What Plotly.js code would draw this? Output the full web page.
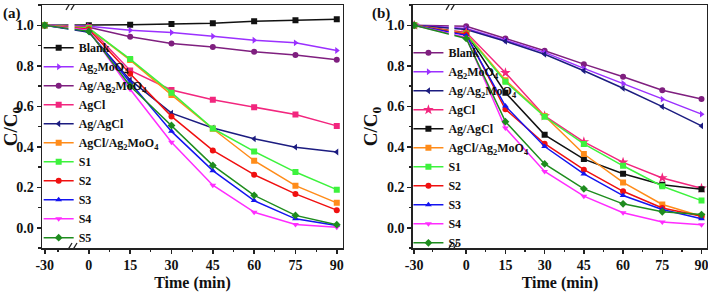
<!DOCTYPE html>
<html>
<head>
<meta charset="utf-8">
<script src="https://cdn.plot.ly/plotly-3.0.1.min.js"></script>
<style>html,body{margin:0;padding:0;background:#fff;}#chart{width:708px;height:292px;}</style>
</head>
<body>
<div id="chart"></div>
<script>
// ---------- data ----------
const time = [-30, 0, 15, 30, 45, 60, 75, 90];
const timeLabels = ['-30', '0', '15', '30', '45', '60', '75', '90'];
const seriesNames = ['Blank', 'Ag<sub>2</sub>MoO<sub>4</sub>', 'Ag/Ag<sub>2</sub>MoO<sub>4</sub>', 'AgCl', 'Ag/AgCl',
  'AgCl/Ag<sub>2</sub>MoO<sub>4</sub>', 'S1', 'S2', 'S3', 'S4', 'S5'];

// panel (a)
const blankA       = [1.00, 1.000, 1.003, 1.006, 1.010, 1.020, 1.025, 1.030];
const ag2moo4A     = [1.00, 0.995, 0.975, 0.964, 0.946, 0.926, 0.913, 0.875];
const agAg2moo4A   = [1.00, 0.990, 0.943, 0.910, 0.892, 0.869, 0.853, 0.830];
const agclA        = [1.00, 0.990, 0.777, 0.680, 0.632, 0.595, 0.559, 0.503];
const agAgclA      = [1.00, 0.965, 0.730, 0.566, 0.493, 0.439, 0.398, 0.374];
const agclAg2moo4A = [1.00, 0.985, 0.828, 0.656, 0.489, 0.331, 0.208, 0.123];
const s1A          = [1.00, 0.985, 0.833, 0.667, 0.490, 0.377, 0.275, 0.188];
const s2A          = [1.00, 0.980, 0.760, 0.550, 0.382, 0.262, 0.167, 0.087];
const s3A          = [1.00, 0.970, 0.717, 0.476, 0.282, 0.134, 0.044, 0.011];
const s4A          = [1.00, 0.975, 0.684, 0.422, 0.210, 0.077, 0.016, 0.003];
const s5A          = [1.00, 0.970, 0.700, 0.505, 0.308, 0.160, 0.061, 0.015];

// panel (b)
const blankB       = [1.00, 0.995, 0.935, 0.874, 0.808, 0.746, 0.679, 0.636];
const ag2moo4B     = [1.00, 0.984, 0.926, 0.866, 0.787, 0.713, 0.635, 0.561];
const agAg2moo4B   = [1.00, 0.979, 0.921, 0.857, 0.775, 0.689, 0.598, 0.503];
const agclB        = [1.00, 0.965, 0.765, 0.552, 0.424, 0.323, 0.246, 0.195];
const agAgclB      = [1.00, 0.960, 0.667, 0.459, 0.339, 0.267, 0.212, 0.190];
const agclAg2moo4B = [1.00, 0.960, 0.729, 0.552, 0.364, 0.224, 0.115, 0.057];
const s1B          = [1.00, 0.955, 0.721, 0.548, 0.414, 0.306, 0.205, 0.134];
const s2B          = [1.00, 0.955, 0.585, 0.415, 0.287, 0.180, 0.098, 0.057];
const s3B          = [1.00, 0.950, 0.601, 0.401, 0.266, 0.159, 0.090, 0.044];
const s4B          = [1.00, 0.940, 0.492, 0.278, 0.156, 0.074, 0.028, 0.015];
const s5B          = [1.00, 0.935, 0.524, 0.315, 0.192, 0.118, 0.079, 0.065];

// ---------- styles ----------
const colorsA  = ['#111111', '#9B30FF', '#7F1F7F', '#F2267E', '#1C1C80', '#FF8C1A', '#3DF23D', '#F01010', '#1414F0', '#FF2CFF', '#1E8C1E'];
const symbolsA = ['square', 'triangle-right', 'circle', 'square', 'triangle-left', 'square', 'square', 'circle', 'triangle-up', 'triangle-down', 'diamond'];
const colorsB  = ['#7F1F7F', '#9B30FF', '#1C1C80', '#F2267E', '#111111', '#FF8C1A', '#3DF23D', '#F01010', '#1414F0', '#FF2CFF', '#1E8C1E'];
const symbolsB = ['circle', 'triangle-right', 'triangle-left', 'star', 'square', 'square', 'square', 'circle', 'triangle-up', 'triangle-down', 'diamond'];

const seriesA = [blankA, ag2moo4A, agAg2moo4A, agclA, agAgclA, agclAg2moo4A, s1A, s2A, s3A, s4A, s5A];
const seriesB = [blankB, ag2moo4B, agAg2moo4B, agclB, agAgclB, agclAg2moo4B, s1B, s2B, s3B, s4B, s5B];

// broken axis: the pre-dark point (-30 min) is drawn closer to 0
const negPosA = -16, negPosB = -19.9;
const breakA = -6.3, breakB = -5.6;
const mapT = (np) => time.map(t => t < 0 ? np : t);

const FONT = 'Liberation Serif, Times New Roman, serif';
const traces = [];
seriesA.forEach((vals, i) => traces.push({
  x: mapT(negPosA), y: vals, name: seriesNames[i], type: 'scatter', mode: 'lines+markers',
  xaxis: 'x', yaxis: 'y', legend: 'legend',
  line: {color: colorsA[i], width: 1.5}, marker: {symbol: symbolsA[i], size: 6, color: colorsA[i]}
}));
seriesB.forEach((vals, i) => traces.push({
  x: mapT(negPosB), y: vals, name: seriesNames[i], type: 'scatter', mode: 'lines+markers',
  xaxis: 'x2', yaxis: 'y2', legend: 'legend2',
  line: {color: colorsB[i], width: 1.5}, marker: {symbol: symbolsB[i], size: symbolsB[i] === 'star' ? 8 : 6, color: colorsB[i]}
}));

const tickFont = {family: FONT, size: 14, color: '#111', weight: 700};
const titleFontX = {family: FONT, size: 16, color: '#111', weight: 700};
const titleFontY = {family: FONT, size: 19, color: '#111', weight: 700};

function xAxis(domain, np, range, minorNeg) {
  return {
    domain: domain, range: range, showgrid: false, zeroline: false,
    showline: true, linecolor: '#222', linewidth: 1.5, mirror: true,
    tickmode: 'array', tickvals: mapT(np), ticktext: timeLabels, ticklabeloverflow: 'allow',
    ticks: 'outside', ticklen: 4, tickwidth: 1.5, tickcolor: '#222', tickfont: tickFont,
    minor: {tickmode: 'array', tickvals: [minorNeg, 7.5, 22.5, 37.5, 52.5, 67.5, 82.5], ticks: 'outside', ticklen: 2.5, tickwidth: 1.2, tickcolor: '#222'},
    title: {text: 'Time (min)', font: titleFontX, standoff: 6}
  };
}
function yAxis(anchor) {
  return {
    anchor: anchor, domain: [0, 1], range: [-0.1, 1.1], showgrid: false, zeroline: false,
    showline: true, linecolor: '#222', linewidth: 1.5, mirror: true,
    tickmode: 'linear', tick0: 0, dtick: 0.2, tickformat: '.1f',
    ticks: 'outside', ticklen: 4, tickwidth: 1.5, tickcolor: '#222', tickfont: tickFont,
    minor: {tick0: 0, dtick: 0.1, ticks: 'outside', ticklen: 2.5, tickwidth: 1.2, tickcolor: '#222'},
    title: {text: 'C/C<sub>0</sub>', font: titleFontY, standoff: 4}
  };
}

// break marks and gaps
const shapes = [];
[['x', 'y', breakA, 1.1], ['x2', 'y2', breakB, 1.05]].forEach(([xr, yr, bx, hw]) => {
  shapes.push({type: 'rect', xref: xr, yref: yr, x0: bx - hw, x1: bx + hw, y0: 0.9, y1: 1.045,
    fillcolor: '#ffffff', line: {width: 0}, layer: 'above'});
  [1.1, -0.1].forEach(ya => {
    [-2.5, 2.5].forEach(dx => {
      shapes.push({type: 'line', xref: xr, yref: yr, xsizemode: 'pixel', ysizemode: 'pixel',
        xanchor: bx, yanchor: ya, x0: dx - 3, x1: dx + 3, y0: -5, y1: 5,
        line: {color: '#222', width: 1.3}, layer: 'above'});
    });
  });
});

const legendBase = {
  bgcolor: 'rgba(0,0,0,0)', borderwidth: 0, tracegroupgap: 0,
  font: {family: FONT, size: 12, color: '#111', weight: 700},
  xanchor: 'left', yanchor: 'top', itemclick: false
};

const layout = {
  width: 708, height: 292,
  margin: {l: 42, r: 1.3, t: 4.7, b: 43.5},
  paper_bgcolor: '#fff', plot_bgcolor: '#fff',
  showlegend: true,
  xaxis: xAxis([0, 0.4524], negPosA, [-17.0, 92.2], -11.2),
  yaxis: yAxis('x'),
  xaxis2: xAxis([0.5577, 1], negPosB, [-20.4, 92.1], -13),
  yaxis2: yAxis('x2'),
  legend: Object.assign({}, legendBase, {x: -0.005, y: 0.884}),
  legend2: Object.assign({}, legendBase, {x: 0.551, y: 0.863}),
  shapes: shapes,
  annotations: [
    {text: '(a)', xref: 'paper', yref: 'paper', x: -0.061, y: 0.965, xanchor: 'left', yanchor: 'middle', showarrow: false,
      font: {family: FONT, size: 15, color: '#111', weight: 700}},
    {text: '(b)', xref: 'paper', yref: 'paper', x: 0.493, y: 0.965, xanchor: 'left', yanchor: 'middle', showarrow: false,
      font: {family: FONT, size: 15, color: '#111', weight: 700}}
  ]
};

Plotly.newPlot('chart', traces, layout, {staticPlot: true, displayModeBar: false});
</script>
</body>
</html>
